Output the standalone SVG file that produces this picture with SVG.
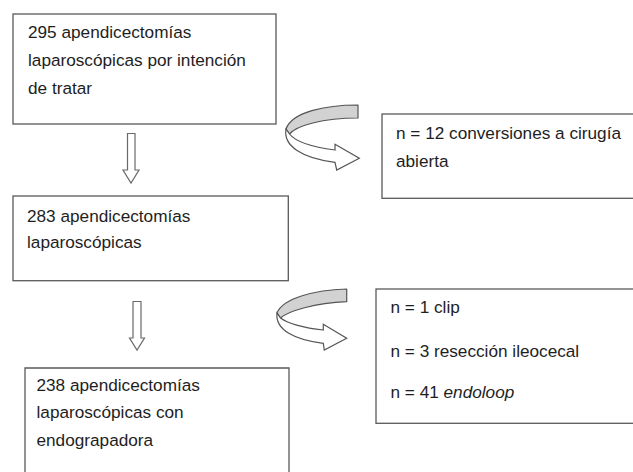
<svg xmlns="http://www.w3.org/2000/svg" width="633" height="472" viewBox="0 0 633 472">
<style>
.box{fill:#fff;stroke:#5a5a5a;stroke-width:1.3}
.t{font-family:"Liberation Sans",Arial,Helvetica,sans-serif;font-size:17.2px;fill:#1e1e1e}
.dn{fill:#fff;stroke:#6a6a6a;stroke-width:1.2;stroke-linejoin:miter}
.band{fill:#d2d2d2;stroke:#555;stroke-width:1.2;stroke-linejoin:round}
.strip{fill:#fff;stroke:#555;stroke-width:1.2;stroke-linejoin:miter}
</style>
<rect width="633" height="472" fill="#fff"/>
<g id="n1">
<rect class="box" x="13" y="14" width="263" height="110"/>
<text class="t" x="28" y="38">295 apendicectomías</text>
<text class="t" x="28" y="66">laparoscópicas por intención</text>
<text class="t" x="28" y="94">de tratar</text>
</g>
<g id="n2">
<rect class="box" x="382" y="114" width="260" height="84.3"/>
<text class="t" x="396" y="139.3">n = 12 conversiones a cirugía</text>
<text class="t" x="396" y="166.5">abierta</text>
</g>
<g id="n3">
<rect class="box" x="13" y="196" width="275.3" height="84.7"/>
<text class="t" x="27" y="221.7">283 apendicectomías</text>
<text class="t" x="27" y="248.3">laparoscópicas</text>
</g>
<g id="n4">
<rect class="box" x="376" y="289" width="266" height="134.3"/>
<text class="t" x="390.5" y="313">n = 1 clip</text>
<text class="t" x="390.5" y="356.5">n = 3 resección ileocecal</text>
<text class="t" x="390.5" y="397.5">n = 41 <tspan font-style="italic">endoloop</tspan></text>
</g>
<g id="n5">
<path class="box" d="M25,480 V368 H289 V480"/>
<text class="t" x="36.5" y="391">238 apendicectomías</text>
<text class="t" x="36.5" y="417.7">laparoscópicas con</text>
<text class="t" x="36.5" y="445.5">endograpadora</text>
</g>
<g id="connectors">
<path class="dn" d="M127.5,133.5 H135 V170 H139 L131,183 L123,170 H127.5 Z"/>
<path class="dn" d="M133,301.5 H141 V338 H144.5 L137,350 L129.5,338 H133 Z"/>
<g id="curved1">
<path class="band" d="M358,105 C325,105 292,112 286,129 L289.5,134 C296,126 322,118 358,118 Z"/>
<path class="strip" d="M286,129 C283,146 302,158 335,162.3 L336.7,170 L359.3,158.3 L335,144.3 L335,150 C312,147 295,141 289.5,134 Z"/>
</g>
<g id="curved2">
<path class="band" d="M346.7,289 C315,290 283,298 277,313 L280.5,318 C288,311 315,303 346.7,301.7 Z"/>
<path class="strip" d="M277,313 C275,330 295,340 323.3,343.3 L324.3,350 L346.7,338.3 L323.3,324.3 L323.3,330 C303,328 287,323 280.5,318 Z"/>
</g>
</g>
</svg>
